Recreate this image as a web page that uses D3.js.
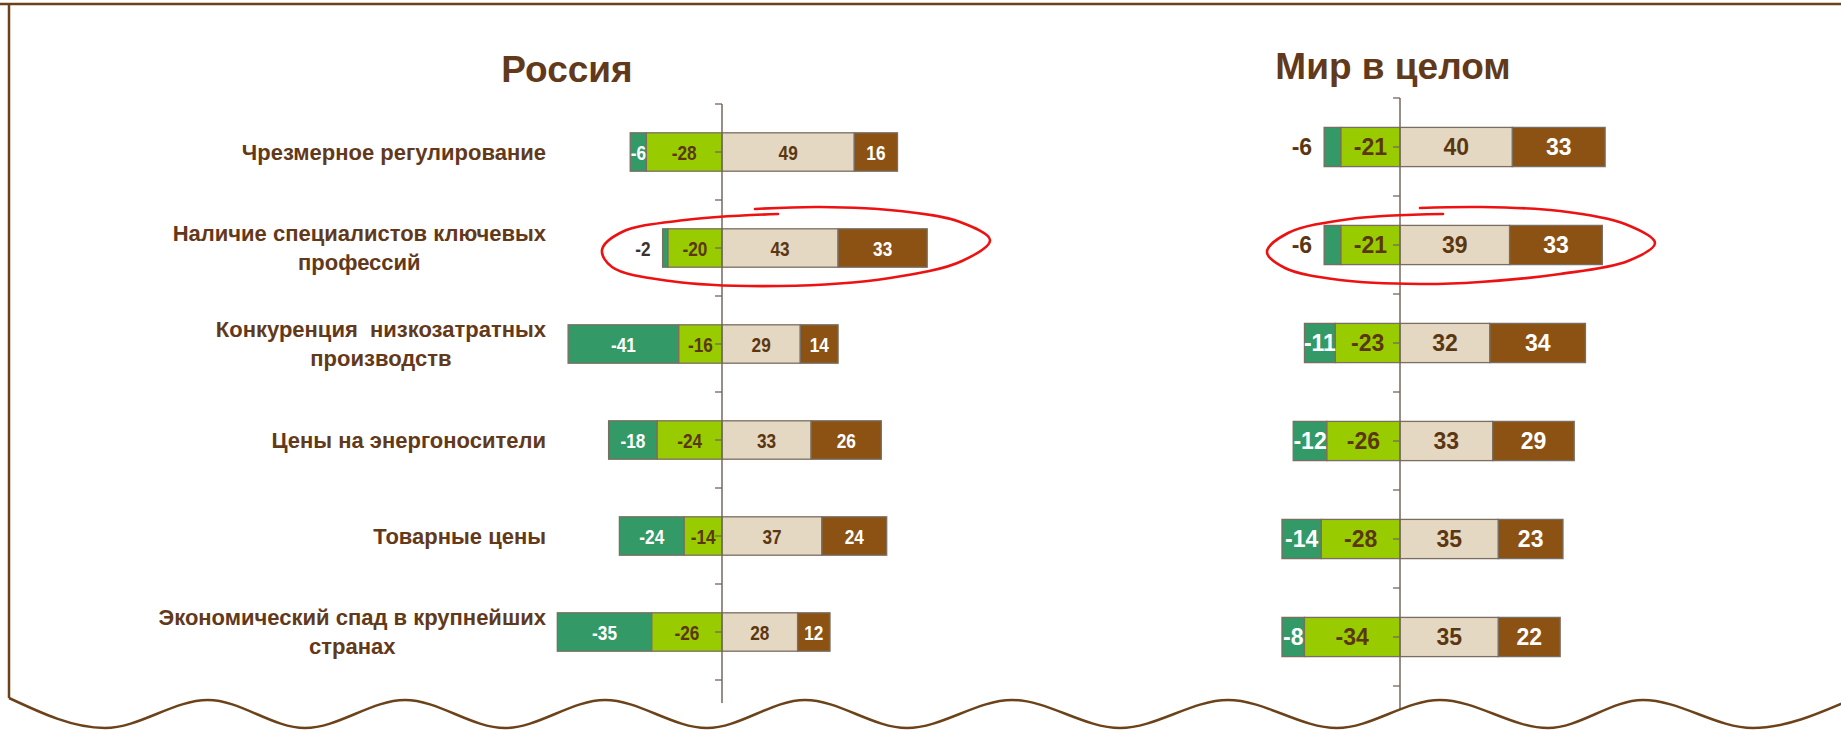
<!DOCTYPE html>
<html>
<head>
<meta charset="utf-8">
<script src="https://cdn.jsdelivr.net/npm/d3@7"></script>
<style>
  body { margin: 0; background: #fff; }
  svg { display: block; }
  text { white-space: pre; }
</style>
</head>
<body>
<div id="chart"></div>
<script>
// Categories (lines of each label)
let categories = [
  ["Чрезмерное регулирование"],
  ["Наличие специалистов ключевых", "профессий"],
  ["Конкуренция  низкозатратных", "производств"],
  ["Цены на энергоносители"],
  ["Товарные цены"],
  ["Экономический спад в крупнейших", "странах"]
];

// Russia values
let russiaStrongNeg = [-6, -2, -41, -18, -24, -35];
let russiaNeg = [-28, -20, -16, -24, -14, -26];
let russiaPos = [49, 43, 29, 33, 37, 28];
let russiaStrongPos = [16, 33, 14, 26, 24, 12];

// World values
let worldStrongNeg = [-6, -6, -11, -12, -14, -8];
let worldNeg = [-21, -21, -23, -26, -28, -34];
let worldPos = [40, 39, 32, 33, 35, 35];
let worldStrongPos = [33, 33, 34, 29, 23, 22];

let seriesKeys = ["strongNeg", "neg", "pos", "strongPos"];

// Set chart measurements
let svgWidth = 1841;
let svgHeight = 730;

let colors = { strongNeg: "#339966", neg: "#99cc00", pos: "#e5d8c2", strongPos: "#8b5214" };
let labelColors = { strongNeg: "#ffffff", neg: "#5b3711", pos: "#5b3711", strongPos: "#ffffff" };
let textBrown = "#62391a";
let frameBrown = "#6b4219";
let axisColor = "#74685c";

let svg = d3.select("#chart")
  .append("svg")
  .attr("width", svgWidth)
  .attr("height", svgHeight);

let panels = [
  {
    title: "Россия", titleX: 567, titleY: 82,
    series: [russiaStrongNeg, russiaNeg, russiaPos, russiaStrongPos],
    zeroX: 722, unit: 2.7, top: 104, step: 96,
    font: "'Liberation Sans', Arial, sans-serif", size: 21, sx: 0.82,
    outsideColor: "#3a3330", showCategories: true
  },
  {
    title: "Мир в целом", titleX: 1393, titleY: 79,
    series: [worldStrongNeg, worldNeg, worldPos, worldStrongPos],
    zeroX: 1400, unit: 2.81, top: 98, step: 98,
    font: "'Liberation Sans', Arial, sans-serif", size: 23, sx: 1,
    outsideColor: "#5b3711", showCategories: false
  }
];

function drawPanel(p) {
  let g = svg.append("g");

  let x = d3.scaleLinear()
    .domain([-70, 80])
    .range([p.zeroX - 70 * p.unit, p.zeroX + 80 * p.unit]);

  let y = d3.scaleBand()
    .domain(d3.range(categories.length))
    .range([p.top, p.top + p.step * categories.length])
    .paddingInner(0.6)
    .paddingOuter(0.3);

  // build stacked segments: negatives go left from zero, positives right
  let segs = [];
  categories.forEach(function(c, i) {
    let sn = p.series[0][i], n = p.series[1][i], ps = p.series[2][i], sp = p.series[3][i];
    segs.push({ key: "strongNeg", v: sn, x0: n + sn, x1: n, row: i });
    segs.push({ key: "neg", v: n, x0: n, x1: 0, row: i });
    segs.push({ key: "pos", v: ps, x0: 0, x1: ps, row: i });
    segs.push({ key: "strongPos", v: sp, x0: ps, x1: ps + sp, row: i });
  });

  g.selectAll("rect.seg")
    .data(segs)
    .enter()
    .append("rect")
    .attr("class", "seg")
    .attr("x", d => x(d.x0))
    .attr("width", d => x(d.x1) - x(d.x0))
    .attr("y", d => y(d.row))
    .attr("height", y.bandwidth())
    .attr("fill", d => colors[d.key])
    .attr("stroke", "#7a6e62")
    .attr("stroke-width", 1.3);

  // axis at zero
  let axisG = g.append("g").attr("transform", `translate(${x(0)},0)`);
  axisG.call(d3.axisLeft(y).tickSize(7).tickSizeOuter(0).tickFormat(""));
  axisG.select(".domain").remove();
  axisG.selectAll(".tick line").attr("stroke", axisColor).attr("stroke-width", 1.3);

  let bounds = d3.range(categories.length + 1).map(i => y.range()[0] + i * y.step());
  axisG.selectAll("line.bound")
    .data(bounds)
    .enter()
    .append("line")
    .attr("class", "bound")
    .attr("x1", -7).attr("x2", 0)
    .attr("y1", d => d).attr("y2", d => d)
    .attr("stroke", axisColor)
    .attr("stroke-width", 1.3);

  axisG.append("line")
    .attr("y1", y.range()[0])
    .attr("y2", y.range()[1] + 23)
    .attr("stroke", axisColor)
    .attr("stroke-width", 1.5);

  // data labels
  let labels = g.selectAll("text.val")
    .data(segs)
    .enter()
    .append("text")
    .attr("class", "val")
    .attr("font-family", p.font)
    .attr("font-weight", "bold")
    .attr("font-size", p.size)
    .attr("text-anchor", "middle")
    .attr("dy", "0.36em")
    .attr("fill", d => labelColors[d.key])
    .text(d => d.v);

  labels.each(function(d) {
    let t = d3.select(this);
    let w = this.getComputedTextLength() * p.sx;
    let segW = x(d.x1) - x(d.x0);
    let cy = y(d.row) + y.bandwidth() / 2;
    // labels that do not fit (allowing a small overflow) go outside, to the left
    if (w > segW + 3) {
      t.attr("text-anchor", "end")
        .attr("fill", p.outsideColor)
        .attr("transform", `translate(${x(d.x0) - 12},${cy}) scale(${p.sx},1)`);
    } else {
      t.attr("transform", `translate(${(x(d.x0) + x(d.x1)) / 2},${cy}) scale(${p.sx},1)`);
    }
  });

  // panel title
  svg.append("text")
    .attr("x", p.titleX)
    .attr("y", p.titleY)
    .attr("text-anchor", "middle")
    .attr("font-family", "'Liberation Sans', Arial, sans-serif")
    .attr("font-weight", "bold")
    .attr("font-size", 37)
    .attr("fill", textBrown)
    .text(p.title);

  // category labels, right-aligned block with centred lines
  if (p.showCategories) {
    let right = 546;
    let lineH = 29;
    categories.forEach(function(lines, i) {
      let cy = y(i) + y.bandwidth() / 2;
      let tg = svg.append("g");
      let texts = tg.selectAll("text")
        .data(lines)
        .enter()
        .append("text")
        .attr("font-family", "'Liberation Sans', Arial, sans-serif")
        .attr("font-weight", "bold")
        .attr("font-size", 22)
        .attr("fill", textBrown)
        .attr("text-anchor", "middle")
        .attr("dy", "0.36em")
        .attr("y", (d, j) => cy + (j - (lines.length - 1) / 2) * lineH)
        .text(d => d);
      let maxW = d3.max(texts.nodes(), n => n.getComputedTextLength());
      texts.attr("x", right - maxW / 2);
    });
  }
}

panels.forEach(drawPanel);

// frame: top rule, left rule and wavy bottom edge
svg.append("line")
  .attr("x1", 0).attr("x2", svgWidth)
  .attr("y1", 4).attr("y2", 4)
  .attr("stroke", frameBrown)
  .attr("stroke-width", 2.5);

let waveX = [9, 105, 208, 305, 405, 505, 605, 707, 805, 907, 1012, 1120, 1228, 1337, 1440, 1548, 1643, 1753, 1850];
let wavePts = waveX.map((wx, i) => [wx, i === 0 ? 698 : (i % 2 ? 728 : 700)]);

svg.append("path")
  .attr("d", "M9,4L9,698")
  .attr("fill", "none")
  .attr("stroke", frameBrown)
  .attr("stroke-width", 2.5);

svg.append("path")
  .attr("d", d3.line().curve(d3.curveMonotoneX)(wavePts))
  .attr("fill", "none")
  .attr("stroke", frameBrown)
  .attr("stroke-width", 2.5);

// red hand-drawn highlight loops
let loops = [
  [[755, 209], [820, 207], [900, 211], [960, 222], [990, 240], [962, 261], [890, 278], [780, 286], [670, 281], [612, 267], [602, 250], [622, 232], [685, 220], [778, 214]],
  [[1420, 208], [1480, 207], [1560, 211], [1625, 224], [1655, 243], [1628, 261], [1560, 274], [1480, 282], [1420, 284], [1340, 280], [1285, 268], [1267, 252], [1288, 233], [1350, 219], [1443, 214]]
];

svg.selectAll("path.loop")
  .data(loops)
  .enter()
  .append("path")
  .attr("class", "loop")
  .attr("d", d3.line().curve(d3.curveCatmullRom))
  .attr("fill", "none")
  .attr("stroke", "#ee1111")
  .attr("stroke-width", 2.6)
  .attr("stroke-linecap", "round");
</script>
</body>
</html>
